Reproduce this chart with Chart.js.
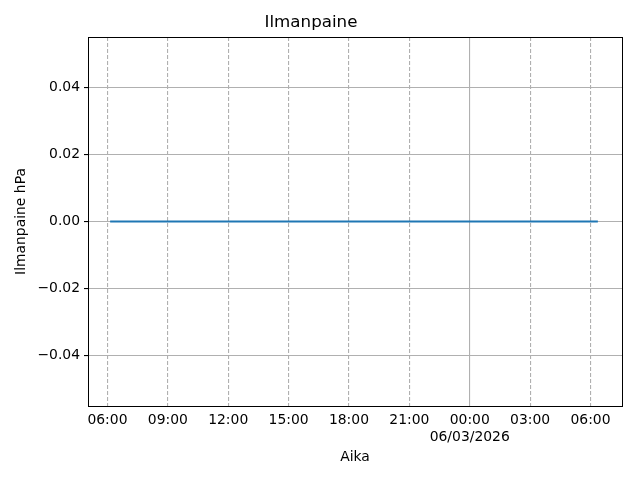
<!DOCTYPE html>
<html>
<head>
<meta charset="utf-8">
<script src="https://cdn.jsdelivr.net/npm/chart.js@4/dist/chart.umd.min.js"></script>
<style>
  html, body { margin: 0; padding: 0; background: #fff; }
  #wrap { width: 640px; height: 480px; }
</style>
</head>
<body>
<div id="wrap"><canvas id="chart" width="640" height="480"></canvas></div>
<script>
// readings (UTC-style timestamps, pressure in hPa)
const readTimes = ['2026-03-05T06:08:00', '2026-03-06T06:22:00'];
const pressure = [0, 0];

// x axis: 3 hour ticks, view limits
const tickTimes = [
  '2026-03-05T06:00:00', '2026-03-05T09:00:00', '2026-03-05T12:00:00',
  '2026-03-05T15:00:00', '2026-03-05T18:00:00', '2026-03-05T21:00:00',
  '2026-03-06T00:00:00', '2026-03-06T03:00:00', '2026-03-06T06:00:00'
];
const xMinTime = '2026-03-05T05:02:00';
const xMaxTime = '2026-03-06T07:34:00';

// y axis ticks
const yTicks = [-0.04, -0.02, 0, 0.02, 0.04];
const yMin = -0.055, yMax = 0.055;

function ms(s) { return Date.parse(s + 'Z'); }

function fmtTime(v) {
  const d = new Date(v);
  const hm = d.toISOString().slice(11, 16);
  if (hm === '00:00') {
    const dd = String(d.getUTCDate()).padStart(2, '0');
    const mm = String(d.getUTCMonth() + 1).padStart(2, '0');
    return [hm, dd + '/' + mm + '/' + d.getUTCFullYear()];
  }
  return hm;
}

function isMidnight(v) {
  return new Date(v).toISOString().slice(11, 16) === '00:00';
}

const frame = {
  id: 'frame',
  afterDatasetsDraw(chart) {
    const { ctx, chartArea: a } = chart;
    ctx.save();
    ctx.strokeStyle = '#000';
    ctx.lineWidth = 1;
    ctx.strokeRect(Math.round(a.left) + 0.5, Math.round(a.top) + 0.5,
      Math.round(a.right - a.left), Math.round(a.bottom - a.top));
    ctx.restore();
  }
};

const font = 'DejaVu Sans';

new Chart(document.getElementById('chart').getContext('2d'), {
  type: 'line',
  data: {
    datasets: [{
      data: readTimes.map((t, i) => ({ x: ms(t), y: pressure[i] })),
      borderColor: '#1f77b4',
      borderWidth: 2.1,
      pointRadius: 0,
      tension: 0,
      fill: false
    }]
  },
  options: {
    responsive: false,
    animation: false,
    devicePixelRatio: 1,
    layout: { padding: { left: 0, right: 18, top: 0, bottom: 0 } },
    plugins: {
      legend: { display: false },
      tooltip: { enabled: false },
      title: {
        display: true,
        text: 'Ilmanpaine',
        color: '#000',
        font: { family: font, size: 16.7, weight: 'normal', lineHeight: 1.2 },
        padding: { top: 13, bottom: 4 }
      }
    },
    scales: {
      x: {
        type: 'linear',
        min: ms(xMinTime),
        max: ms(xMaxTime),
        afterBuildTicks(scale) {
          scale.ticks = tickTimes.map(t => ({ value: ms(t) }));
        },
        afterFit(scale) { scale.height = 74; },
        border: {
          display: false,
          dash: ctx => (ctx.tick && isMidnight(ctx.tick.value)) ? [] : [4, 2]
        },
        grid: {
          color: '#b0b0b0',
          lineWidth: 1.1,
          drawTicks: false
        },
        ticks: {
          color: '#000',
          font: { family: font, size: 13.9 },
          padding: 6,
          maxRotation: 0,
          autoSkip: false,
          callback: v => fmtTime(v)
        },
        title: {
          display: true,
          text: 'Aika',
          color: '#000',
          font: { family: font, size: 13.9 },
          padding: { top: 0, bottom: 14 }
        }
      },
      y: {
        min: yMin,
        max: yMax,
        afterBuildTicks(scale) {
          scale.ticks = yTicks.map(v => ({ value: v }));
        },
        afterFit(scale) { scale.width = 88; },
        border: { display: false },
        grid: {
          color: '#b0b0b0',
          lineWidth: 1.1,
          tickColor: '#000',
          tickLength: 4,
          drawTicks: true
        },
        ticks: {
          color: '#000',
          font: { family: font, size: 13.9 },
          padding: 4,
          callback: v => v.toFixed(2).replace('-', '\u2212')
        },
        title: {
          display: true,
          text: 'Ilmanpaine hPa',
          color: '#000',
          font: { family: font, size: 13.9 },
          padding: { top: 13, bottom: 0 }
        }
      }
    }
  },
  plugins: [frame]
});
</script>
</body>
</html>
